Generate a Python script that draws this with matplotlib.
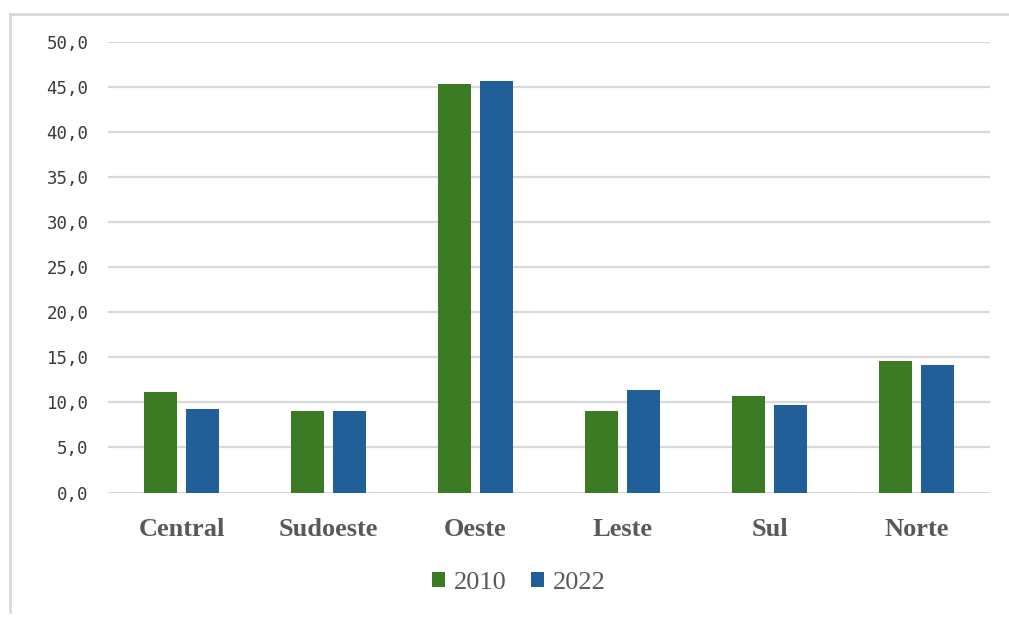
import matplotlib.pyplot as plt
import numpy as np
from matplotlib.lines import Line2D

categorias = ["Central", "Sudoeste", "Oeste", "Leste", "Sul", "Norte"]
anos = ["2010", "2022"]
v2010 = [11.1, 9.0, 45.3, 9.0, 10.7, 14.6]
v2022 = [9.3, 9.0, 45.7, 11.4, 9.7, 14.2]
yticks = [0, 5, 10, 15, 20, 25, 30, 35, 40, 45, 50]

verde = "#3c7a23"
azul = "#215f99"
cinza = "#595959"

W, H = 1009, 618
fig = plt.figure(figsize=(W / 100, H / 100), dpi=100)
ax = fig.add_axes([108 / W, 1 - 492.5 / H, (990 - 108) / W, (492.5 - 42) / H])

x = np.arange(len(categorias))
bw = 0.225
ax.bar(x - 0.143, v2010, bw, color=verde, label=anos[0], zorder=3)
ax.bar(x + 0.143, v2022, bw, color=azul, label=anos[1], zorder=3)

ax.set_xlim(-0.5, len(categorias) - 0.5)
ax.set_ylim(0, 50)
ax.set_yticks(yticks)
ax.set_yticklabels([f"{v:.1f}".replace(".", ",") for v in yticks],
                   family="DejaVu Sans Mono", fontsize=12.5, color="#3a3a3a")
ax.set_xticks(x)
ax.set_xticklabels(categorias, family="Liberation Serif", fontsize=19,
                   fontweight="bold", color=cinza)
ax.tick_params(axis="y", length=0, pad=14)
ax.tick_params(axis="x", length=0, pad=18)
ax.grid(axis="y", color="#d9d9d9", linewidth=1.6, zorder=0)
for s in ax.spines.values():
    s.set_visible(False)

leg = fig.legend(loc="center", bbox_to_anchor=(519 / W, 1 - 583 / H), ncol=2,
                 frameon=False, handlelength=0.5, handleheight=0.5,
                 handletextpad=0.35, columnspacing=0.9,
                 prop={"family": "Liberation Serif", "size": 19})
for t in leg.get_texts():
    t.set_color(cinza)

# moldura (apenas topo e lado esquerdo visiveis)
fig.add_artist(Line2D([10 / W, 1], [1 - 14 / H, 1 - 14 / H], color="#d9d9d9", linewidth=2))
fig.add_artist(Line2D([10 / W, 10 / W], [1 - 14 / H, 1 - 612 / H], color="#d9d9d9", linewidth=2))

fig.savefig("out.png", dpi=100)
